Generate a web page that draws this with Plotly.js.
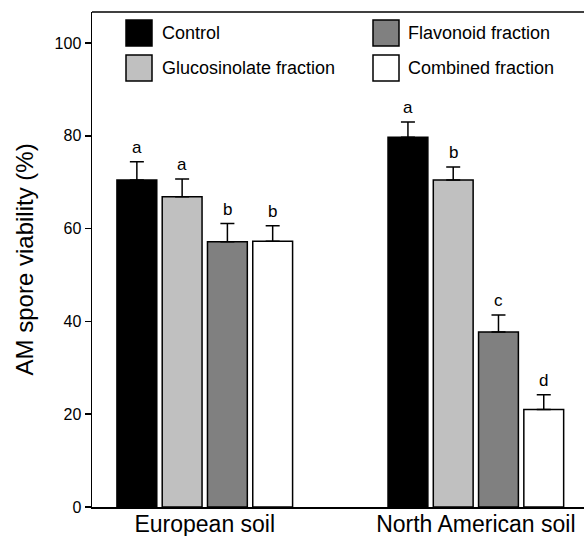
<!DOCTYPE html>
<html>
<head>
<meta charset="utf-8">
<script src="https://cdn.plot.ly/plotly-3.0.1.min.js"></script>
<style>html,body{margin:0;padding:0;background:#fff;}#chart{width:584px;height:536px;}</style>
</head>
<body>
<div id="chart"></div>
<script>
// ---- data ----
var soils = ["European soil", "North American soil"];
var seriesNames = ["Control", "Glucosinolate fraction", "Flavonoid fraction", "Combined fraction"];
var seriesColors = ["#000000", "#c0c0c0", "#808080", "#ffffff"];
var controlMean = [70.5, 79.7];
var glucoMean = [66.9, 70.5];
var flavMean = [57.2, 37.7];
var combMean = [57.3, 21.0];
var controlErr = [3.9, 3.3];
var glucoErr = [3.8, 2.8];
var flavErr = [3.9, 3.7];
var combErr = [3.3, 3.2];
var controlLetters = ["a", "a"];
var glucoLetters = ["a", "b"];
var flavLetters = ["b", "c"];
var combLetters = ["b", "d"];
var yTicks = [0, 20, 40, 60, 80, 100];
var yTitle = "AM spore viability (%)";

var means = [controlMean, glucoMean, flavMean, combMean];
var errs = [controlErr, glucoErr, flavErr, combErr];
var letters = [controlLetters, glucoLetters, flavLetters, combLetters];

var FONT = "Liberation Sans, Arial, Helvetica, sans-serif";
var bargap = 0.332;
var slot = (1 - bargap) / 4;

var traces = [];
var annotations = [];
var shapes = [];
for (var s = 0; s < 4; s++) {
  traces.push({
    type: "bar",
    x: soils,
    y: means[s],
    name: seriesNames[s],
    marker: {color: seriesColors[s], line: {color: "#000", width: 1.5}},
    error_y: {type: "data", array: errs[s], arrayminus: [0, 0], symmetric: false,
              color: "#000", thickness: 1.5, width: 7},
    showlegend: false,
    hoverinfo: "skip"
  });
  for (var g = 0; g < soils.length; g++) {
    annotations.push({
      x: g + (s - 1.5) * slot, xref: "x",
      y: means[s][g] + errs[s][g], yref: "y",
      text: letters[s][g], showarrow: false,
      yanchor: "bottom", yshift: 3,
      font: {family: FONT, size: 17, color: "#000"}
    });
  }
}

// custom legend (pixel layout converted to paper coords)
var plotL = 92, plotW = 492, plotB = 507, plotH = 495;
function px(xp) { return (xp - plotL) / plotW; }
function py(yp) { return (plotB - yp) / plotH; }
var legPos = [
  {x0: 126, y0: 20, tx: 160},  // Control
  {x0: 126, y0: 55, tx: 160},  // Glucosinolate
  {x0: 373, y0: 20, tx: 406},  // Flavonoid
  {x0: 373, y0: 55, tx: 406}   // Combined
];
for (var i = 0; i < 4; i++) {
  var p = legPos[i];
  shapes.push({type: "rect", xref: "paper", yref: "paper",
    x0: px(p.x0), x1: px(p.x0 + 26), y0: py(p.y0), y1: py(p.y0 + 26),
    fillcolor: seriesColors[i], line: {color: "#000", width: 1.5}});
  annotations.push({xref: "paper", yref: "paper", x: px(p.tx), y: py(p.y0 + 13),
    xanchor: "left", yanchor: "middle", showarrow: false, text: seriesNames[i],
    font: {family: FONT, size: 18, color: "#000"}});
}
// y-axis title
annotations.push({xref: "paper", yref: "paper", x: px(24.4), y: py(259),
  xanchor: "center", yanchor: "middle", textangle: -90, showarrow: false,
  text: yTitle, font: {family: FONT, size: 24, color: "#000"}});
// top frame line
shapes.push({type: "line", xref: "paper", yref: "paper", x0: 0, x1: 1, y0: 1, y1: 1,
  line: {color: "#000", width: 1.5}});

var layout = {
  width: 584, height: 536,
  margin: {l: 92, r: 0, t: 12, b: 29},
  paper_bgcolor: "#fff", plot_bgcolor: "#fff",
  barmode: "group", bargap: bargap, bargroupgap: 0.12,
  font: {family: FONT, color: "#000"},
  xaxis: {
    type: "category", range: [-0.416, 1.399],
    showline: true, linecolor: "#000", linewidth: 1.5,
    ticks: "", showgrid: false, zeroline: false,
    tickfont: {size: 23}, ticklabelstandoff: -4, automargin: false
  },
  yaxis: {
    range: [0, 106.7], tickvals: yTicks,
    showline: true, linecolor: "#000", linewidth: 1.5,
    ticks: "outside", ticklen: 6, tickwidth: 1.5, tickcolor: "#000",
    showgrid: false, zeroline: false,
    tickfont: {size: 16}, automargin: false
  },
  annotations: annotations,
  shapes: shapes,
  showlegend: false
};

Plotly.newPlot("chart", traces, layout, {displayModeBar: false, staticPlot: true});
</script>
</body>
</html>
